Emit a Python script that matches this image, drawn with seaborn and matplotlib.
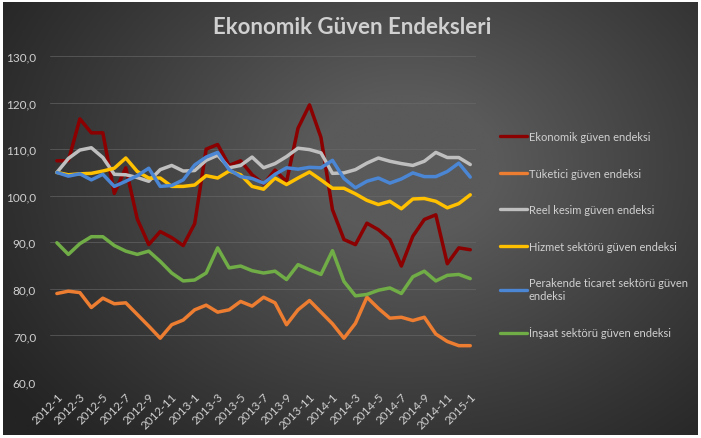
import numpy as np
import pandas as pd
import matplotlib.pyplot as plt
import seaborn as sns
from matplotlib.lines import Line2D

# ==========================================
# DATA
# ==========================================
months = [f"{y}-{m}" for y in (2012, 2013, 2014) for m in range(1, 13)] + ["2015-1"]

ekonomik = [107.5, 107.5, 116.5, 113.5, 113.5, 100.5, 106.0, 95.0, 89.5, 92.3,
            91.0, 89.3, 94.0, 110.0, 111.0, 106.5, 107.5, 104.5, 102.5, 105.5,
            103.0, 114.5, 119.5, 112.5, 97.0, 90.6, 89.5, 94.1, 92.7, 90.6,
            84.9, 91.3, 94.9, 95.9, 85.4, 88.8, 88.4]
tuketici = [79.0, 79.5, 79.2, 76.0, 78.0, 76.8, 77.0, 74.5, 72.0, 69.4,
            72.3, 73.3, 75.5, 76.5, 75.0, 75.5, 77.3, 76.3, 78.2, 77.0,
            72.3, 75.5, 77.5, 75.0, 72.5, 69.4, 72.6, 78.2, 75.8, 73.7,
            73.9, 73.2, 73.9, 70.3, 68.7, 67.8, 67.8]
reel_kesim = [105.0, 108.0, 109.8, 110.3, 108.2, 104.6, 104.5, 103.9, 103.1, 105.6,
              106.5, 105.3, 105.4, 107.6, 108.7, 106.0, 106.5, 108.3, 106.0, 106.9,
              108.4, 110.2, 109.9, 109.2, 104.8, 104.9, 105.6, 107.0, 108.1, 107.4,
              106.9, 106.5, 107.4, 109.3, 108.2, 108.2, 106.7]
hizmet = [105.0, 104.5, 104.7, 104.8, 105.3, 105.9, 108.1, 105.2, 103.8, 103.8,
          102.0, 102.0, 102.3, 104.3, 103.8, 105.3, 104.5, 102.0, 101.4, 103.8,
          102.4, 103.8, 105.1, 103.4, 101.6, 101.6, 100.4, 99.0, 98.1, 98.8,
          97.2, 99.3, 99.4, 98.8, 97.4, 98.3, 100.2]
perakende = [105.0, 104.2, 104.7, 103.4, 104.6, 102.0, 103.1, 104.3, 105.9, 102.0,
             102.2, 103.4, 106.6, 108.3, 109.3, 105.6, 104.1, 103.7, 102.7, 104.6,
             106.0, 105.7, 106.1, 106.0, 107.6, 103.7, 101.7, 103.1, 103.8, 102.7,
             103.6, 104.9, 104.1, 104.1, 105.2, 107.0, 104.0]
insaat = [89.9, 87.4, 89.7, 91.2, 91.2, 89.3, 88.1, 87.4, 88.1, 85.9,
          83.4, 81.7, 81.9, 83.4, 88.8, 84.5, 84.9, 83.9, 83.4, 83.8,
          82.0, 85.2, 84.1, 83.1, 88.2, 81.6, 78.5, 78.8, 79.7, 80.2,
          79.0, 82.6, 83.8, 81.7, 82.9, 83.1, 82.2]

SERIES = ["Ekonomik güven endeksi", "Tüketici güven endeksi", "Reel kesim güven endeksi",
          "Hizmet sektörü güven endeksi", "Perakende ticaret sektörü güven endeksi",
          "İnşaat sektörü güven endeksi"]
COLORS = ["#8B0000", "#ED7D31", "#BFBFBF", "#FFC000", "#4A86D4", "#70AD47"]
LEGEND_LABELS = SERIES[:4] + ["Perakende ticaret sektörü güven\nendeksi", SERIES[5]]

values = [ekonomik, tuketici, reel_kesim, hizmet, perakende, insaat]
df = pd.concat([
    pd.DataFrame({"idx": range(len(months)), "ay": months, "seri": name, "deger": vals})
    for name, vals in zip(SERIES, values)
], ignore_index=True)

TEXT_COLOR = "#D0D0D0"

sns.set_style("dark")
plt.rcParams["font.family"] = ["Lato", "DejaVu Sans"]

fig = plt.figure(figsize=(7.01, 4.39), dpi=100)
fig.patch.set_facecolor("white")

# arka plan: radyal gradyan
bg = fig.add_axes([3 / 701, 3 / 439, 695 / 701, 433 / 439])
yy, xx = np.mgrid[0:1:300j, 0:1:480j]
r = np.sqrt(((xx - 0.58) / 0.72) ** 2 + ((yy - 0.62) / 0.9) ** 2)
g = np.clip(1 - r, 0, 1) ** 1.1
bg.imshow(g, cmap=sns.blend_palette(["#232323", "#5A5A5A"], as_cmap=True),
          aspect="auto", extent=[0, 1, 0, 1], origin="lower", vmin=0, vmax=0.8)
bg.axis("off")

ax = fig.add_axes([50 / 701, 1 - 383 / 439, 426 / 701, 326 / 439])
ax.set_facecolor("none")

sns.lineplot(data=df, x="idx", y="deger", hue="seri", hue_order=SERIES,
             palette=COLORS, linewidth=2.5, legend=False, ax=ax)

ax.set_xlim(-0.6, 36.5)
ax.set_ylim(60, 130)
ax.set_yticks(range(60, 131, 10))
ax.set_yticklabels([f"{v},0" for v in range(60, 131, 10)], color=TEXT_COLOR, fontsize=8.5)
ax.set_xticks(range(0, len(months), 2))
ax.set_xticklabels(months[::2], rotation=45, ha="right", rotation_mode="anchor",
                   color=TEXT_COLOR, fontsize=8.5)
ax.tick_params(axis="both", length=0)
ax.tick_params(axis="y", pad=10)
ax.tick_params(axis="x", pad=6)
ax.set_xlabel("")
ax.set_ylabel("")
ax.grid(axis="y", color="#6A6A6A", linewidth=0.7, alpha=0.6)
ax.grid(axis="x", visible=False)
for s in ax.spines.values():
    s.set_visible(False)

handles = [Line2D([0], [0], color=c, linewidth=2.4) for c in COLORS]
leg = fig.legend(handles, LEGEND_LABELS, loc="upper left",
                 bbox_to_anchor=(490 / 701, 1 - 122 / 439), frameon=False,
                 fontsize=8, labelcolor=TEXT_COLOR, handlelength=2.4,
                 handletextpad=0.2, labelspacing=2.3)

fig.text(0.503, 1 - 27 / 439, "Ekonomik Güven Endeksleri", ha="center", va="center",
         fontsize=16, fontweight="bold", color=TEXT_COLOR)

fig.savefig("out.png", dpi=100, facecolor=fig.get_facecolor())
